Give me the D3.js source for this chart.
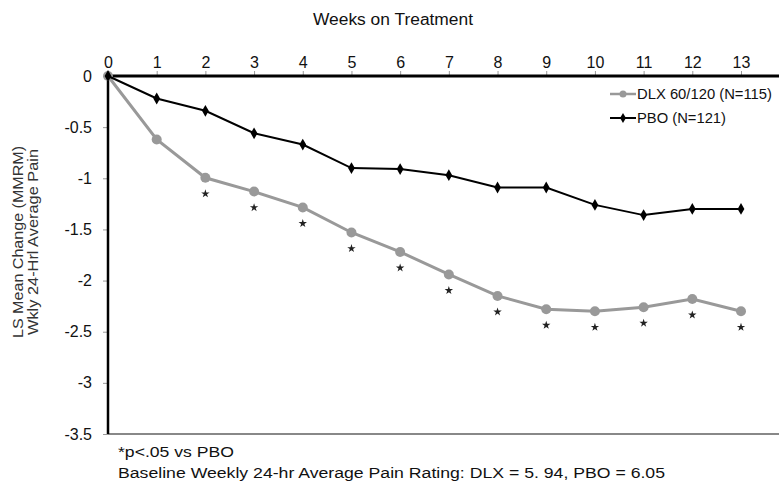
<!DOCTYPE html>
<html>
<head>
<meta charset="utf-8">
<script src="https://cdn.jsdelivr.net/npm/d3@7"></script>
<style>
  body { margin: 0; background: #fff; }
  text { font-family: "Liberation Sans", Arial, sans-serif; fill: #111; }
</style>
</head>
<body>
<div id="chart"></div>
<script>
// data
const weeks = [0, 1, 2, 3, 4, 5, 6, 7, 8, 9, 10, 11, 12, 13]
const dlxValues = [0, -0.62, -0.995, -1.13, -1.285, -1.53, -1.72, -1.94, -2.15, -2.28, -2.30, -2.26, -2.18, -2.30]
const pboValues = [0, -0.22, -0.34, -0.56, -0.67, -0.90, -0.91, -0.97, -1.09, -1.09, -1.26, -1.36, -1.30, -1.30]
const sigWeeks = [2, 3, 4, 5, 6, 7, 8, 9, 10, 11, 12, 13]
const yTicks = [0, -0.5, -1, -1.5, -2, -2.5, -3, -3.5]

const margin = { top: 76, left: 108, right: 0, bottom: 51 }
const fullW = 779
const fullH = 485
const height = fullH - margin.top - margin.bottom

const svg = d3.select('#chart')
  .append('svg')
  .attr('width', fullW)
  .attr('height', fullH)

const g = svg.append('g')
  .attr('transform', 'translate(' + margin.left + ',' + margin.top + ')')

const xScale = d3.scaleLinear().domain([0, 13]).range([0, 633])
const yScale = d3.scaleLinear().domain([0, -3.5]).range([0, height])
const plotRight = fullW - margin.left

// top axis (weeks)
const xAxis = d3.axisTop(xScale).tickValues(weeks).tickSize(5).tickPadding(3).tickFormat(d3.format('d'))
const xg = g.append('g').call(xAxis)
xg.select('.domain').remove()
xg.selectAll('line').attr('stroke', '#999')
xg.selectAll('text').style('font-size', '16px')

g.append('line')
  .attr('x1', 0).attr('x2', plotRight)
  .attr('y1', 0).attr('y2', 0)
  .attr('stroke', '#000').attr('stroke-width', 3)

// bottom frame line
g.append('line')
  .attr('x1', 0).attr('x2', plotRight)
  .attr('y1', height).attr('y2', height)
  .attr('stroke', '#888').attr('stroke-width', 2)

// left axis, plain hyphen for the minus sign like the original
const yAxis = d3.axisLeft(yScale).tickValues(yTicks).tickSize(5).tickPadding(11)
  .tickFormat(d => String(d))
const yg = g.append('g').call(yAxis)
yg.select('.domain').remove()
yg.selectAll('line').attr('stroke', '#999')
yg.selectAll('text').style('font-size', '16px')

g.append('line')
  .attr('x1', 0).attr('x2', 0)
  .attr('y1', 0).attr('y2', height)
  .attr('stroke', '#000').attr('stroke-width', 2.5)

// titles
svg.append('text')
  .attr('x', 393).attr('y', 25)
  .attr('text-anchor', 'middle')
  .attr('textLength', 160).attr('lengthAdjust', 'spacingAndGlyphs')
  .style('font-size', '16px')
  .text('Weeks on Treatment')

const yTitle = svg.append('text')
  .attr('transform', 'translate(23,242) rotate(-90)')
  .attr('text-anchor', 'middle')
  .style('font-size', '15px')
  .style('fill', '#333')
yTitle.append('tspan').attr('x', 0).attr('y', 0)
  .attr('textLength', 192).attr('lengthAdjust', 'spacingAndGlyphs')
  .text('LS Mean Change (MMRM)')
yTitle.append('tspan').attr('x', 0).attr('y', 15)
  .attr('textLength', 186).attr('lengthAdjust', 'spacingAndGlyphs')
  .text('Wkly 24-Hrl Average Pain')

// lines
const dlx = weeks.map((w, i) => ({ week: w, value: dlxValues[i] }))
const pbo = weeks.map((w, i) => ({ week: w, value: pboValues[i] }))

const line = d3.line()
  .x(d => xScale(d.week))
  .y(d => yScale(d.value))

g.append('path')
  .datum(dlx)
  .attr('fill', 'none')
  .attr('stroke', '#999')
  .attr('stroke-width', 3)
  .attr('d', line)

g.selectAll('.dlx-dot')
  .data(dlx)
  .enter()
  .append('circle')
  .attr('cx', d => xScale(d.week))
  .attr('cy', d => yScale(d.value))
  .attr('r', 5)
  .attr('fill', '#999')

g.append('path')
  .datum(pbo)
  .attr('fill', 'none')
  .attr('stroke', '#000')
  .attr('stroke-width', 2)
  .attr('d', line)

const diamond = d3.symbol().type(d3.symbolDiamond).size(40)
g.selectAll('.pbo-dot')
  .data(pbo)
  .enter()
  .append('path')
  .attr('d', diamond)
  .attr('transform', d => 'translate(' + xScale(d.week) + ',' + yScale(d.value) + ')')
  .attr('fill', '#000')

// significance stars
const star = d3.symbol().type(d3.symbolStar).size(22)
g.selectAll('.star')
  .data(dlx.filter(d => sigWeeks.includes(d.week)))
  .enter()
  .append('path')
  .attr('d', star)
  .attr('transform', d => 'translate(' + xScale(d.week) + ',' + (yScale(d.value) + 16) + ')')
  .attr('fill', '#222')

// legend
const legend = svg.append('g').attr('transform', 'translate(610,94)')
legend.append('line').attr('x1', 0).attr('x2', 26).attr('y1', 0).attr('y2', 0)
  .attr('stroke', '#999').attr('stroke-width', 2.5)
legend.append('circle').attr('cx', 13).attr('cy', 0).attr('r', 3.5).attr('fill', '#999')
legend.append('text').attr('x', 27).attr('y', 5)
  .attr('textLength', 135).attr('lengthAdjust', 'spacingAndGlyphs')
  .style('font-size', '14px').text('DLX 60/120 (N=115)')

legend.append('line').attr('x1', 0).attr('x2', 26).attr('y1', 24).attr('y2', 24)
  .attr('stroke', '#000').attr('stroke-width', 2)
legend.append('path').attr('d', d3.symbol().type(d3.symbolDiamond).size(30))
  .attr('transform', 'translate(13,24)').attr('fill', '#000')
legend.append('text').attr('x', 27).attr('y', 29)
  .attr('textLength', 89).attr('lengthAdjust', 'spacingAndGlyphs')
  .style('font-size', '14px').text('PBO (N=121)')

// footnotes
svg.append('text').attr('x', 118).attr('y', 457)
  .attr('textLength', 116).attr('lengthAdjust', 'spacingAndGlyphs')
  .style('font-size', '14px').text('*p<.05 vs PBO')
svg.append('text').attr('x', 118).attr('y', 478)
  .attr('textLength', 547).attr('lengthAdjust', 'spacingAndGlyphs')
  .style('font-size', '14px').text('Baseline Weekly 24-hr Average Pain Rating: DLX = 5. 94, PBO = 6.05')
</script>
</body>
</html>
